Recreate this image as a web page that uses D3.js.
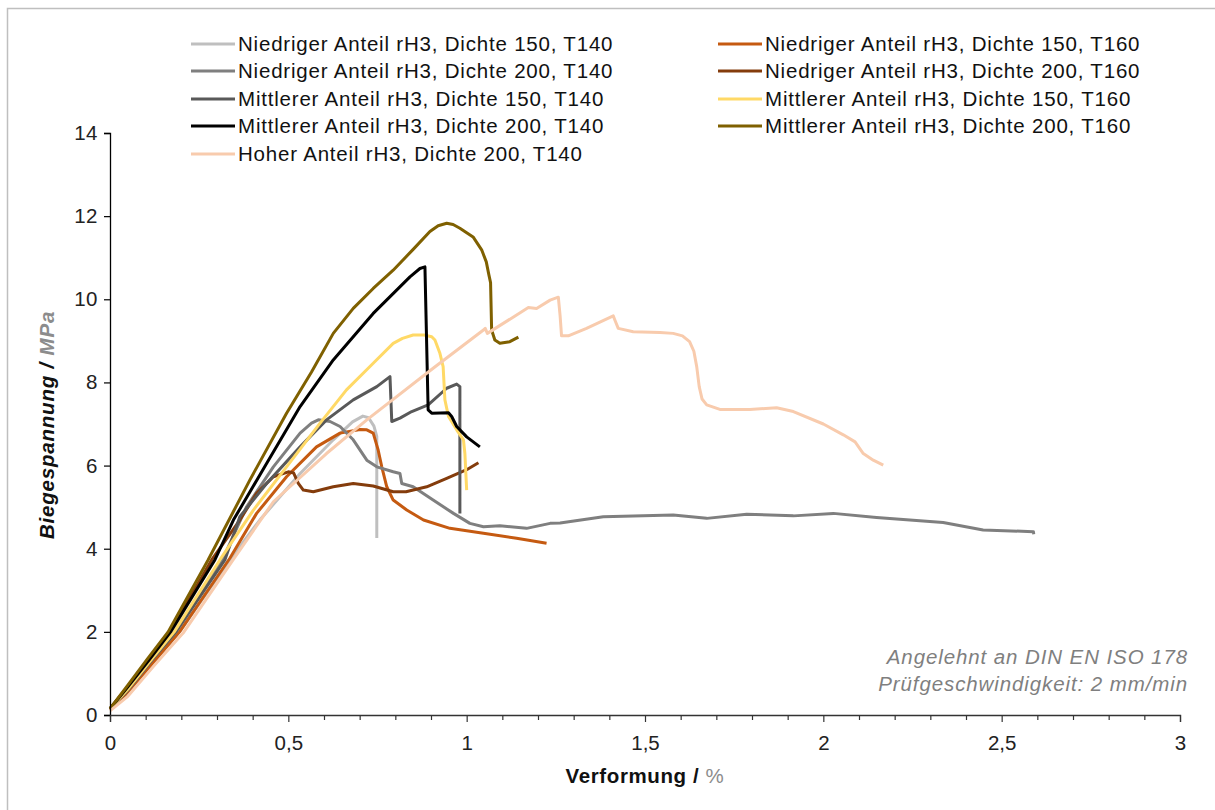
<!DOCTYPE html>
<html>
<head>
<meta charset="utf-8">
<script src="https://cdn.jsdelivr.net/npm/d3@7"></script>
<style>
  html, body { margin: 0; padding: 0; background: #fff; }
  svg { display: block; font-family: Arial, "Liberation Sans", sans-serif; }
</style>
</head>
<body>
<svg id="chart" width="1215" height="810"></svg>
<script>
// Strain (%) / flexural stress (MPa) curves, one array per specimen series
const n150t140 = [[0,0.12],[0.05,0.55],[0.12,1.25],[0.195,2.0],[0.336,3.73],[0.42,4.69],[0.533,5.81],[0.626,6.62],[0.68,7.05],[0.709,7.19],[0.725,7.15],[0.74,6.95],[0.748,6.7],[0.748,4.26]];
const n150t160 = [[0,0.12],[0.05,0.55],[0.12,1.25],[0.195,2.0],[0.336,3.77],[0.411,4.85],[0.495,5.73],[0.579,6.45],[0.645,6.78],[0.701,6.87],[0.72,6.86],[0.738,6.78],[0.752,6.37],[0.762,5.97],[0.776,5.49],[0.794,5.17],[0.832,4.93],[0.879,4.69],[0.953,4.49],[1.047,4.37],[1.14,4.25],[1.224,4.13]];
const n200t140 = [[0,0.15],[0.05,0.6],[0.115,1.3],[0.183,2.0],[0.315,3.73],[0.383,5.01],[0.458,5.97],[0.533,6.78],[0.565,7.02],[0.584,7.1],[0.617,7.06],[0.645,6.94],[0.682,6.62],[0.72,6.13],[0.748,5.97],[0.794,5.85],[0.813,5.81],[0.818,5.57],[0.85,5.49],[0.906,5.17],[0.963,4.85],[1.009,4.61],[1.047,4.53],[1.093,4.55],[1.168,4.49],[1.234,4.61],[1.262,4.62],[1.383,4.77],[1.579,4.81],[1.673,4.73],[1.785,4.83],[1.916,4.79],[2.028,4.85],[2.149,4.75],[2.336,4.63],[2.448,4.45],[2.589,4.41],[2.59,4.35]];
const n200t160 = [[0,0.15],[0.05,0.68],[0.11,1.35],[0.168,2.0],[0.285,3.73],[0.364,4.69],[0.411,5.33],[0.458,5.73],[0.5,5.85],[0.515,5.82],[0.528,5.57],[0.542,5.41],[0.57,5.37],[0.626,5.49],[0.682,5.57],[0.738,5.51],[0.794,5.37],[0.83,5.37],[0.888,5.49],[0.944,5.69],[1.0,5.9],[1.033,6.07]];
const m150t140 = [[0,0.15],[0.05,0.6],[0.115,1.3],[0.185,2.0],[0.322,3.73],[0.364,4.77],[0.439,5.57],[0.533,6.45],[0.607,7.1],[0.682,7.58],[0.748,7.9],[0.785,8.14],[0.79,7.06],[0.813,7.14],[0.846,7.3],[0.892,7.46],[0.944,7.86],[0.972,7.96],[0.981,7.9],[0.981,4.85]];
const m150t160 = [[0,0.15],[0.05,0.62],[0.115,1.32],[0.18,2.0],[0.308,3.73],[0.402,4.93],[0.495,5.97],[0.589,7.02],[0.663,7.82],[0.738,8.46],[0.794,8.94],[0.82,9.06],[0.85,9.14],[0.88,9.14],[0.902,9.1],[0.911,9.02],[0.925,8.7],[0.934,8.38],[0.939,7.58],[0.949,7.18],[0.972,6.86],[0.991,6.62],[0.995,6.29],[1.0,5.41]];
const m200t140 = [[0,0.15],[0.05,0.68],[0.11,1.33],[0.17,2.0],[0.294,3.73],[0.346,4.69],[0.439,6.05],[0.533,7.42],[0.626,8.54],[0.738,9.66],[0.841,10.54],[0.869,10.74],[0.883,10.78],[0.892,7.34],[0.902,7.26],[0.949,7.27],[0.958,7.18],[0.972,6.94],[1.0,6.69],[1.037,6.45]];
const m200t160 = [[0,0.15],[0.05,0.72],[0.105,1.35],[0.163,2.0],[0.275,3.73],[0.392,5.65],[0.495,7.26],[0.565,8.25],[0.626,9.18],[0.682,9.78],[0.738,10.26],[0.794,10.7],[0.85,11.2],[0.897,11.63],[0.92,11.77],[0.944,11.83],[0.962,11.8],[0.981,11.71],[1.018,11.5],[1.042,11.19],[1.055,10.9],[1.062,10.6],[1.067,10.4],[1.07,9.26],[1.079,9.02],[1.093,8.94],[1.121,8.98],[1.145,9.09]];
const h200t140 = [[0,0.1],[0.05,0.45],[0.125,1.2],[0.205,1.97],[0.345,3.73],[0.458,5.13],[0.607,6.29],[0.72,7.1],[0.906,8.34],[1.047,9.26],[1.052,9.3],[1.058,9.18],[1.173,9.8],[1.196,9.78],[1.234,9.98],[1.257,10.05],[1.262,9.6],[1.266,9.12],[1.285,9.12],[1.336,9.3],[1.411,9.6],[1.416,9.49],[1.425,9.3],[1.467,9.22],[1.542,9.2],[1.579,9.18],[1.605,9.12],[1.625,8.98],[1.637,8.75],[1.645,8.38],[1.652,7.9],[1.66,7.6],[1.673,7.46],[1.71,7.35],[1.794,7.35],[1.869,7.39],[1.916,7.3],[2.0,7.0],[2.056,6.74],[2.089,6.57],[2.112,6.29],[2.14,6.13],[2.168,6.01]];

const seriesNames = [
  "Niedriger Anteil rH3, Dichte 150, T140",
  "Niedriger Anteil rH3, Dichte 150, T160",
  "Niedriger Anteil rH3, Dichte 200, T140",
  "Niedriger Anteil rH3, Dichte 200, T160",
  "Mittlerer Anteil rH3, Dichte 150, T140",
  "Mittlerer Anteil rH3, Dichte 150, T160",
  "Mittlerer Anteil rH3, Dichte 200, T140",
  "Mittlerer Anteil rH3, Dichte 200, T160",
  "Hoher Anteil rH3, Dichte 200, T140"
];
const seriesData = [n150t140, n150t160, n200t140, n200t160, m150t140, m150t160, m200t140, m200t160, h200t140];
const seriesColors = ["#bfbfbf", "#c55a11", "#7f7f7f", "#843c0c", "#595959", "#ffd966", "#000000", "#7f6000", "#f8cbad"];

const xTicks = [0, 0.5, 1, 1.5, 2, 2.5, 3];
const xTickLabels = ["0", "0,5", "1", "1,5", "2", "2,5", "3"];
const yTicks = [0, 2, 4, 6, 8, 10, 12, 14];

const FONT = 20.5;
const svg = d3.select("#chart");

// outer frame
svg.append("rect")
  .attr("x", 7.5).attr("y", 8.5)
  .attr("width", 1220).attr("height", 820)
  .attr("fill", "none").attr("stroke", "#bfbfbf").attr("stroke-width", 1.5);

const x = d3.scaleLinear().domain([0, 3]).range([110, 1180]);
const y = d3.scaleLinear().domain([0, 14]).range([715, 133]);

// series curves
const line = d3.line().x(d => x(d[0])).y(d => y(d[1]));
const order = [0, 1, 2, 3, 4, 5, 6, 7, 8];
svg.append("g").selectAll("path")
  .data(order)
  .join("path")
  .attr("d", i => line(seriesData[i]))
  .attr("fill", "none")
  .attr("stroke", i => seriesColors[i])
  .attr("stroke-width", 3)
  .attr("stroke-linejoin", "round")
  .attr("stroke-linecap", "butt");

// y axis
const yAxis = d3.axisLeft(y).tickValues(yTicks).tickSize(6).tickFormat(d3.format("d"));
const gy = svg.append("g").attr("transform", `translate(${x(0)},0)`).call(yAxis);
gy.select(".domain").attr("stroke", "#000").attr("stroke-width", 1.3);
gy.selectAll(".tick line").attr("stroke", "#000").attr("stroke-width", 1.2);
gy.selectAll(".tick text")
  .attr("x", -12)
  .attr("font-size", FONT)
  .attr("letter-spacing", 0.5)
  .attr("fill", "#222")
  .attr("font-family", "Arial, 'Liberation Sans', sans-serif");

// x axis with minor ticks every 0.1
const minorTicks = d3.range(0, 31).map(i => i / 10).filter(v => Math.abs(v * 2 - Math.round(v * 2)) > 1e-6);
const gxMinor = svg.append("g").attr("transform", `translate(0,${y(0)})`)
  .call(d3.axisBottom(x).tickValues(minorTicks).tickSize(5).tickFormat(""));
gxMinor.select(".domain").remove();
gxMinor.selectAll(".tick line").attr("stroke", "#333").attr("stroke-width", 1.2);

const gx = svg.append("g").attr("transform", `translate(0,${y(0)})`)
  .call(d3.axisBottom(x).tickValues(xTicks).tickSize(7).tickFormat((d, i) => xTickLabels[i]));
gx.select(".domain").attr("stroke", "#333").attr("stroke-width", 1.3);
gx.selectAll(".tick line").attr("stroke", "#333").attr("stroke-width", 1.2);
gx.selectAll(".tick text")
  .attr("y", 20)
  .attr("font-size", FONT)
  .attr("fill", "#222")
  .attr("font-family", "Arial, 'Liberation Sans', sans-serif");

// axis titles
const xt = svg.append("text")
  .attr("x", 645).attr("y", 783)
  .attr("text-anchor", "middle")
  .attr("font-size", FONT).attr("font-weight", "bold").attr("letter-spacing", 0.6);
xt.append("tspan").attr("fill", "#111").text("Verformung / ");
xt.append("tspan").attr("fill", "#8c8c8c").attr("font-weight", "normal").text("%");

const yt = svg.append("text")
  .attr("transform", "translate(54,425) rotate(-90)")
  .attr("text-anchor", "middle")
  .attr("font-size", FONT).attr("font-weight", "bold").attr("font-style", "italic")
  .attr("letter-spacing", 0.8);
yt.append("tspan").attr("fill", "#111").text("Biegespannung / ");
yt.append("tspan").attr("fill", "#8c8c8c").text("MPa");

// legend (two columns, filled row by row)
const legendCols = [191, 718];
const legendRows = [44, 71, 99, 126, 154];
const colOf = i => (i === 8 ? 0 : i % 2);
const rowOf = i => (i === 8 ? 4 : Math.floor(i / 2));
const lg = svg.append("g").selectAll("g")
  .data(order)
  .join("g")
  .attr("transform", i => `translate(${legendCols[colOf(i)]},${legendRows[rowOf(i)]})`);
lg.append("line")
  .attr("x1", 0).attr("x2", 44).attr("y1", 0).attr("y2", 0)
  .attr("stroke", i => seriesColors[i]).attr("stroke-width", 3);
lg.append("text")
  .attr("x", 47).attr("y", 0).attr("dy", "0.35em")
  .attr("font-size", FONT).attr("letter-spacing", 0.8).attr("fill", "#111")
  .text(i => seriesNames[i]);

// test conditions note
const note = svg.append("text")
  .attr("text-anchor", "end")
  .attr("font-size", FONT).attr("font-style", "italic").attr("fill", "#7f7f7f")
  .attr("letter-spacing", 0.9);
note.append("tspan").attr("x", 1188).attr("y", 664).text("Angelehnt an DIN EN ISO 178");
note.append("tspan").attr("x", 1188).attr("y", 691).text("Prüfgeschwindigkeit: 2 mm/min");
</script>
</body>
</html>
